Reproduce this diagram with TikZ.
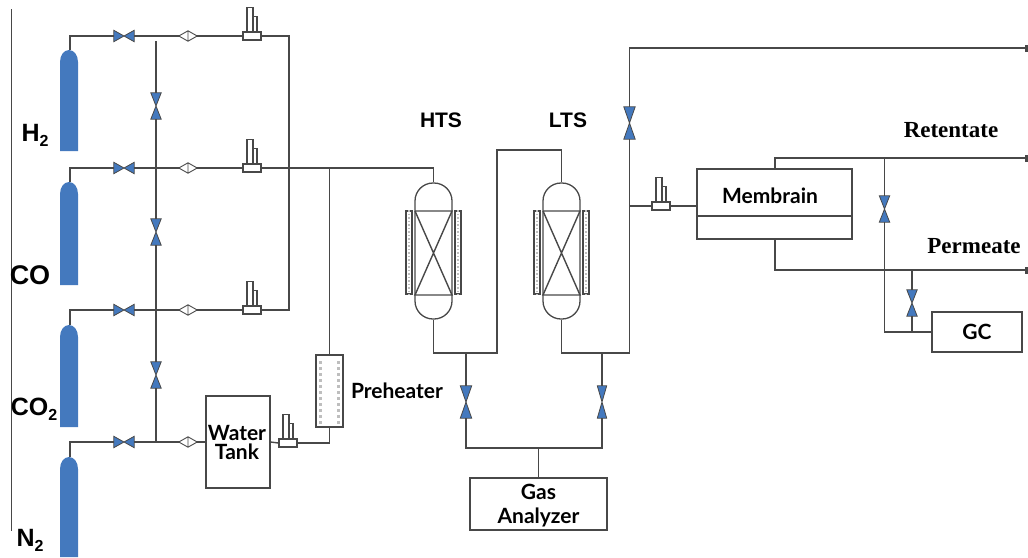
\documentclass[tikz,border=0pt]{standalone}
\usepackage{fontspec}
\setmainfont{Lato}
\newfontfamily\gasfont{Liberation Sans}
\newfontfamily\outfont{Liberation Serif}
\usepackage{xcolor}
\usetikzlibrary{arrows.meta, calc}
\definecolor{pipecol}{RGB}{72,72,72}
\definecolor{valvecol}{RGB}{68,121,190}
\definecolor{dotcol}{RGB}{190,190,190}
\newcommand{\subtwo}{\raisebox{-5pt}{\fontsize{16}{16}\selectfont 2}}
\tikzset{
    pipe/.style={draw=pipecol, line width=1.4pt},
    unitbox/.style={draw=pipecol, fill=white, line width=1.2pt, inner sep=0pt, align=center},
    unitlabel/.style={inner sep=0pt, align=center, font=\fontsize{21}{21}\selectfont\bfseries},
    gaslabel/.style={inner sep=0pt, font=\fontsize{25}{25}\selectfont\gasfont\bfseries},
    outlabel/.style={inner sep=0pt, font=\fontsize{23}{23}\selectfont\outfont\bfseries},
    reactorlabel/.style={inner sep=0pt, font=\fontsize{21}{21}\selectfont\gasfont\bfseries},
    valveh/.style={inner sep=0pt, minimum width=20pt, minimum height=11pt,
        append after command={\pgfextra{\draw[draw=pipecol, fill=valvecol, line width=.8pt]
            (\tikzlastnode.north west) -- (\tikzlastnode.south east)
            -- (\tikzlastnode.north east) -- (\tikzlastnode.south west) -- cycle;}}},
    valvev/.style={inner sep=0pt, minimum width=10pt, minimum height=26pt,
        append after command={\pgfextra{\draw[draw=pipecol, fill=valvecol, line width=.8pt]
            (\tikzlastnode.north west) -- (\tikzlastnode.north east)
            -- (\tikzlastnode.south west) -- (\tikzlastnode.south east) -- cycle;}}},
    checkv/.style={inner sep=0pt, minimum width=18pt, minimum height=10pt,
        append after command={\pgfextra{\draw[draw=pipecol, fill=white, line width=.9pt]
            (\tikzlastnode.west) -- (\tikzlastnode.north) -- (\tikzlastnode.east)
            -- (\tikzlastnode.south) -- cycle
            (\tikzlastnode.north) -- (\tikzlastnode.south);}}},
    meter/.style={draw=pipecol, fill=white, line width=1.2pt, inner sep=0pt,
        minimum width=18pt, minimum height=8pt,
        append after command={\pgfextra{\draw[draw=pipecol, line width=1.1pt]
            ([xshift=-5pt]\tikzlastnode.north) -- ++(0,-24) -- ++(6,0) -- ++(0,24)
            ([xshift=1pt,yshift=15pt]\tikzlastnode.north) -- ++(4,0) -- ++(0,15);}}},
    heater/.style={draw=pipecol, fill=white, line width=1.1pt, inner sep=0pt,
        minimum width=6pt, minimum height=83pt},
    reactor/.style={draw=pipecol, line width=1.3pt, inner sep=0pt, minimum width=37pt,
        minimum height=136pt, rounded corners=18pt}
}
\begin{document}
\begin{tikzpicture}[x=1pt, y=-1pt]
\useasboundingbox (0,0) rectangle (1028,557);

% frame line left of the labels
\coordinate (frameA) at (11,9);
\coordinate (frameB) at (11,531);
\draw[pipe, line width=1pt] (frameA) -- (frameB);

% gas cylinders
\foreach \cname/\ctop/\cbot in {H/50/151, C/182/285, D/325/427, N/457/557}{
    \fill[valvecol] (60,\cbot) -- (60,\ctop+12)
        .. controls (60,\ctop+5) and (64,\ctop) .. (69,\ctop)
        .. controls (74,\ctop) and (78,\ctop+5) .. (78,\ctop+12)
        -- (78,\cbot) -- cycle;
    \coordinate (cyl\cname) at (70,\ctop);
}
\node[gaslabel] (gasH) at (35,135) {H\subtwo};
\node[gaslabel, font=\fontsize{27}{27}\selectfont\gasfont\bfseries] (gasC) at (30,275) {CO};
\node[gaslabel] (gasD) at (34,409) {CO\subtwo};
\node[gaslabel] (gasN) at (30,540) {N\subtwo};

% feed lines
\foreach \lname/\ly in {H/36, C/168, D/310, N/442}{
    \node[valveh] (val\lname) at (124,\ly) {};
    \node[checkv] (chk\lname) at (188,\ly) {};
    \coordinate (bend\lname) at (70,\ly);
    \coordinate (tee\lname) at (156,\ly);
    \draw[pipe] (cyl\lname) -- (bend\lname) -- (val\lname.west);
    \draw[pipe] (val\lname.east) -- (chk\lname.west);
}
\foreach \lname/\ly in {H/36, C/168, D/310}{
    \node[meter] (mfc\lname) at (252,\ly) {};
    \draw[pipe] (chk\lname.east) -- (mfc\lname.west);
}

% mixing column
\coordinate (mixtop) at (156,41);
\node[valvev] (mixA) at (156,106) {};
\node[valvev] (mixB) at (156,232) {};
\node[valvev] (mixC) at (156,375) {};
\draw[pipe] (mixtop) -- (mixA.north);
\draw[pipe] (mixA.south) -- (mixB.north);
\draw[pipe] (mixB.south) -- (mixC.north);
\draw[pipe] (mixC.south) -- (teeN);

% header after the meters
\coordinate (hdrtop) at (289,36);
\coordinate (hdrbot) at (289,310);
\coordinate (hdrmix) at (329.5,168);
\coordinate (htsbend) at (433.5,168);
\draw[pipe] (mfcH.east) -- (hdrtop) -- (hdrbot) -- (mfcD.east);

% water line
\node[unitbox, minimum width=64pt, minimum height=92pt] (tank) at (238,442) {};
\node[unitlabel, font=\fontsize{21}{19}\selectfont\bfseries] (tanktxt) at (237,442) {Water\\Tank};
\node[meter] (mfcW) at (288,443) {};
\node[draw=pipecol, fill=white, line width=1.2pt, inner sep=0pt, minimum width=27pt, minimum height=72pt] (preheat) at (329.5,391) {};
\foreach \py in {361,367,...,421}{
    \fill[dotcol] (319,\py) rectangle ++(3,3);
    \fill[dotcol] (337,\py) rectangle ++(3,3);
}
\node[unitlabel] (preheattxt) at (397,391) {Preheater};
\coordinate (preheatbend) at (329.5,443);
\draw[pipe] (chkN.east) -- (tank.west);
\draw[pipe] (tank.east) -- (mfcW.west);
\draw[pipe] (mfcW.east) -- (preheatbend) -- (preheat.south);
\draw[pipe] (hdrmix) -- (preheat.north);

% shift reactors
\foreach \rname/\rx in {hts/433.5, lts/561.5}{
    \node[reactor] (\rname) at (\rx,251) {};
    \draw[pipe] (\rx-18.5,211) -- (\rx+18.5,211) -- (\rx-18.5,295) -- (\rx+18.5,295) -- (\rx-18.5,211);
    \node[heater] (\rname L) at (\rx-24.5,252.5) {};
    \node[heater] (\rname R) at (\rx+24.5,252.5) {};
    \draw[dotcol, line width=1.5pt, dash pattern=on 1.5pt off 2pt] (\rname L.north) -- (\rname L.south);
    \draw[dotcol, line width=1.5pt, dash pattern=on 1.5pt off 2pt] (\rname R.north) -- (\rname R.south);
}
\node[reactorlabel] (htstxt) at (441,120) {HTS};
\node[reactorlabel] (ltstxt) at (568,120) {LTS};
\draw[pipe] (mfcC.east) -- (htsbend) -- (hts.north);

\coordinate (htsout) at (433.5,353);
\coordinate (linkA) at (497,353);
\coordinate (linkB) at (497,150);
\coordinate (linkC) at (561.5,150);
\draw[pipe] (hts.south) -- (htsout) -- (linkA) -- (linkB) -- (linkC) -- (lts.north);

% sampling to the analyzer
\node[valvev, minimum width=11pt, minimum height=32pt] (smpA) at (466,402) {};
\node[valvev, minimum width=9pt, minimum height=32pt] (smpB) at (602,402) {};
\node[unitbox, minimum width=137pt, minimum height=52pt] (analyzer) at (538.5,504) {};
\node[unitlabel, font=\fontsize{21}{24}\selectfont\bfseries] (analyzertxt) at (538.5,506) {Gas\\Analyzer};
\coordinate (ltsout) at (561.5,353);
\coordinate (smpAtop) at (466,353);
\coordinate (smpBtop) at (602,353);
\coordinate (smpAbot) at (466,448);
\coordinate (smpBbot) at (602,448);
\coordinate (smpmid) at (538.5,448);
\draw[pipe] (smpAtop) -- (smpA.north);
\draw[pipe] (smpBtop) -- (smpB.north);
\draw[pipe] (smpA.south) -- (smpAbot) -- (smpBbot) -- (smpB.south);
\draw[pipe] (smpmid) -- (analyzer.north);

% membrane section
\node[valvev, minimum width=11pt, minimum height=32pt] (bypass) at (629.5,123) {};
\node[meter] (mfcM) at (661,206) {};
\node[unitbox, minimum width=155pt, minimum height=70pt] (memb) at (774.5,204) {};
\node[unitlabel] (membtxt) at (770,196) {Membrain};
\coordinate (membA) at (697,216);
\coordinate (membB) at (852,216);
\draw[pipe] (membA) -- (membB);
\coordinate (risebot) at (629.5,353);
\coordinate (risemid) at (629.5,206);
\coordinate (risetop) at (629.5,48);
\coordinate (outA) at (1028,48);
\coordinate (retA) at (775,158);
\coordinate (outB) at (1028,158);
\coordinate (perA) at (775,270);
\coordinate (outC) at (1028,270);
\draw[pipe] (lts.south) -- (ltsout) -- (risebot) -- (risemid);
\draw[pipe] (risemid) -- (bypass.south);
\draw[pipe, -{Rectangle[length=3pt, width=7pt]}] (bypass.north) -- (risetop) -- (outA);
\draw[pipe] (risemid) -- (mfcM.west);
\draw[pipe] (mfcM.east) -- (memb.west |- mfcM.east);
\draw[pipe, -{Rectangle[length=3pt, width=7pt]}] (memb.north -| retA) -- (retA) -- (outB);
\draw[pipe, -{Rectangle[length=3pt, width=7pt]}] (memb.south -| perA) -- (perA) -- (outC);
\node[outlabel] (rettxt) at (951,130) {Retentate};
\node[outlabel] (pertxt) at (974,246) {Permeate};

% gc sampling
\node[valvev] (gcA) at (884.5,209) {};
\node[valvev] (gcB) at (912,303) {};
\node[unitbox, minimum width=90pt, minimum height=40pt] (gc) at (977,332) {};
\node[unitlabel] (gctxt) at (977,332) {GC};
\coordinate (gcAtop) at (884.5,158);
\coordinate (gcBtop) at (912,270);
\coordinate (gcAbot) at (884.5,332);
\coordinate (gcBbot) at (912,332);
\draw[pipe] (gcAtop) -- (gcA.north);
\draw[pipe] (gcBtop) -- (gcB.north);
\draw[pipe] (gcA.south) -- (gcAbot) -- (gcBbot);
\draw[pipe] (gcB.south) -- (gcBbot) -- (gc.west);
\end{tikzpicture}
\end{document}
